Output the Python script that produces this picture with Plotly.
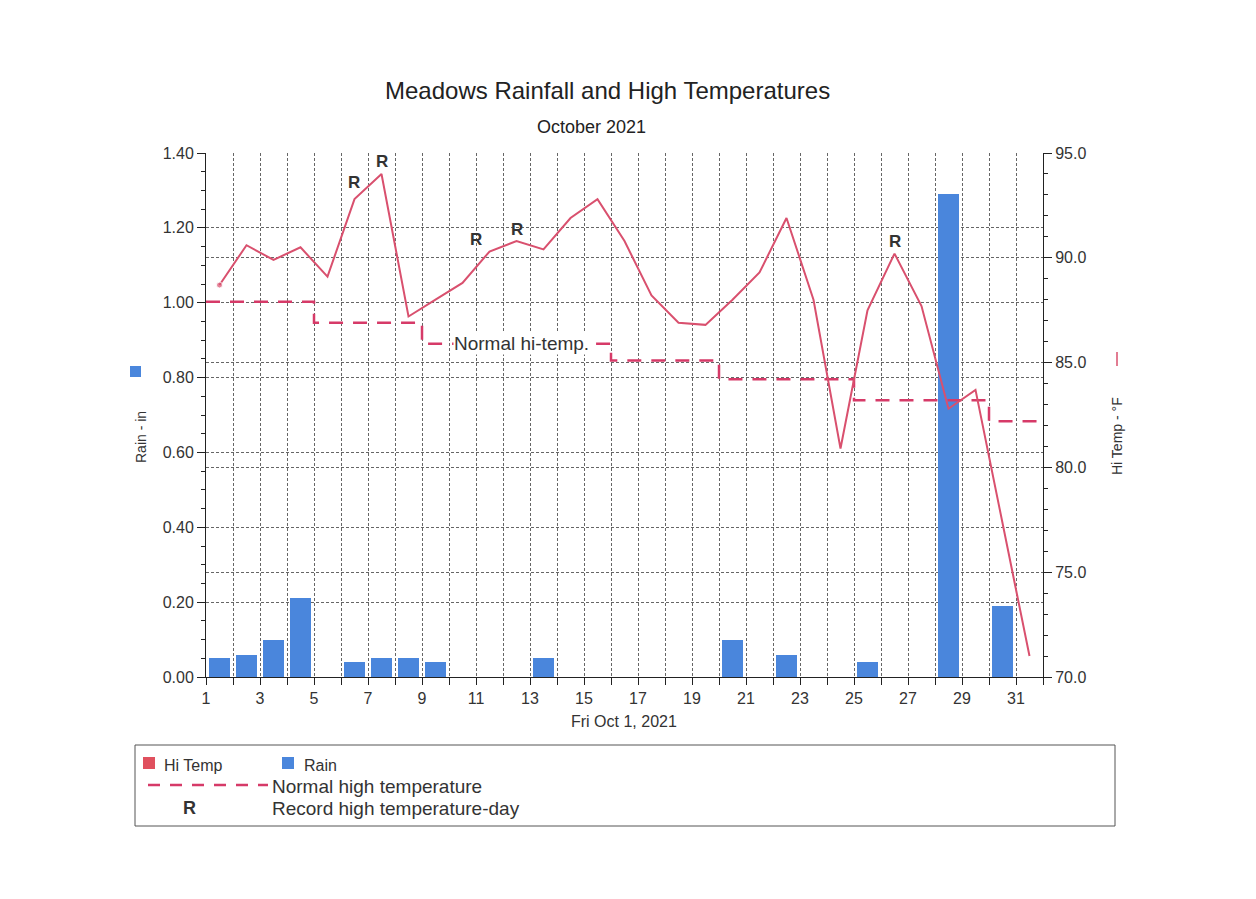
import plotly.graph_objects as go

# ---------------- data ----------------
days = list(range(1, 32))
rain_in = [0.05, 0.06, 0.10, 0.21, 0.00, 0.04, 0.05, 0.05, 0.04, 0.00,
           0.00, 0.00, 0.05, 0.00, 0.00, 0.00, 0.00, 0.00, 0.00, 0.10,
           0.00, 0.06, 0.00, 0.00, 0.04, 0.00, 0.00, 1.29, 0.00, 0.19, 0.00]
hi_temp = [88.7, 90.6, 89.9, 90.5, 89.1, 92.8, 94.0, 87.2, 88.0, 88.8,
           90.3, 90.8, 90.4, 91.9, 92.8, 90.8, 88.2, 86.9, 86.8, 88.0,
           89.3, 91.9, 88.0, 80.9, 87.5, 90.2, 87.7, 82.8, 83.7, 77.4, 71.0]
normal_hi = [87.9, 87.9, 87.9, 87.9, 86.9, 86.9, 86.9, 86.9, 85.9, 85.9,
             85.9, 85.9, 85.9, 85.9, 85.9, 85.1, 85.1, 85.1, 85.1, 84.2,
             84.2, 84.2, 84.2, 84.2, 83.2, 83.2, 83.2, 83.2, 83.2, 82.2, 82.2]
record_days = [6, 7, 11, 12, 26]
x_tick_vals = list(range(1, 32, 2))

# ---------------- style ----------------
FONT = "Liberation Sans, Arial, sans-serif"
TEMP_COLOR = "#d9506e"
NORMAL_COLOR = "#d63a68"
RAIN_COLOR = "#4a86dc"
GRID = dict(showgrid=True, gridcolor="#666666", gridwidth=1, griddash="3px,2px")

BODY = 8  # default page margin of the html body
W, H = 1256 - 2 * BODY, 899 - 2 * BODY
PL, PR, PT, PB = 206, 1043, 153, 677  # plot area in window pixels
def px(x):
    return (x - PL) / (PR - PL)
def py(y):
    return (PB - y) / (PB - PT)

centers = [d + 0.5 for d in days]

fig = go.Figure()
fig.add_trace(go.Bar(x=centers, y=rain_in, width=0.8, marker_color=RAIN_COLOR,
                     marker_line_width=0, name="Rain", yaxis="y"))
fig.add_trace(go.Scatter(x=days + [days[-1] + 1], y=normal_hi + [normal_hi[-1]],
                         mode="lines", line=dict(color=NORMAL_COLOR, width=2.5, dash="14px,10px", shape="hv"),
                         name="Normal high temperature", yaxis="y2"))
fig.add_trace(go.Scatter(x=centers, y=hi_temp, mode="lines+markers",
                         line=dict(color=TEMP_COLOR, width=2),
                         marker=dict(color=TEMP_COLOR, size=[6] + [0] * (len(days) - 1)),
                         name="Hi Temp", yaxis="y2"))

def note(x, y, text, size, anchor="center", angle=0, color="#333", **kw):
    return dict(x=px(x), y=py(y), xref="paper", yref="paper", xanchor=anchor, yanchor="middle",
                text=text, textangle=angle, showarrow=False,
                font=dict(family=FONT, size=size, color=color), **kw)

annotations = []
# record markers
for d in record_days:
    i = days.index(d)
    annotations.append(dict(x=centers[i], y=hi_temp[i], xref="x", yref="y2",
                            xanchor="center", yanchor="middle",
                            text="<b>R</b>", showarrow=False,
                            yshift=17 if d == 6 else 12,
                            xshift=-14 if d == 11 else (-1 if d == 6 else 0),
                            font=dict(family=FONT, size=17, color="#333")))
annotations += [
    note(453, 343, "Normal hi-temp.", 19, anchor="left", bgcolor="white", borderpad=0),
    note(607, 90, "Meadows Rainfall and High Temperatures", 24, color="#222"),
    note(591, 127, "October 2021", 18, color="#222"),
    note(624, 721, "Fri Oct 1, 2021", 16),
    note(141, 437, "Rain - in", 14, angle=-90),
    note(1117, 436, "Hi Temp - °F", 14, angle=-90),
    # legend texts
    note(162, 765, "Hi Temp", 16, anchor="left"),
    note(302, 765, "Rain", 16, anchor="left"),
    note(270, 786, "Normal high temperature", 19, anchor="left"),
    note(189, 808, "<b>R</b>", 18),
    note(270, 808, "Record high temperature-day", 19, anchor="left"),
]

shapes = [
    # legend box
    dict(type="rect", xref="paper", yref="paper", x0=px(135), x1=px(1115), y0=py(745), y1=py(826),
         line=dict(color="#555", width=1)),
    dict(type="rect", xref="paper", yref="paper", x0=px(143), x1=px(155), y0=py(757), y1=py(769),
         line=dict(width=0), fillcolor="#e0505e"),
    dict(type="rect", xref="paper", yref="paper", x0=px(282), x1=px(294), y0=py(757), y1=py(769),
         line=dict(width=0), fillcolor=RAIN_COLOR),
    dict(type="line", xref="paper", yref="paper", x0=px(148), x1=px(268), y0=py(785), y1=py(785),
         line=dict(color=NORMAL_COLOR, width=2.5, dash="12px,10px")),
    # small keys beside axis titles
    dict(type="rect", xref="paper", yref="paper", x0=px(130), x1=px(141), y0=py(366), y1=py(377),
         line=dict(width=0), fillcolor=RAIN_COLOR),
    dict(type="line", xref="paper", yref="paper", x0=px(1117), x1=px(1117), y0=py(352), y1=py(366),
         line=dict(color=TEMP_COLOR, width=1.5)),
]

tickfont = dict(family=FONT, size=16, color="#333")
fig.update_layout(
    width=W, height=H,
    margin=dict(l=PL - BODY, r=W + BODY - PR, t=PT - BODY, b=H + BODY - PB, pad=0),
    paper_bgcolor="white", plot_bgcolor="white",
    showlegend=False, bargap=0,
    xaxis=dict(range=[1, 32], tickvals=x_tick_vals, ticks="outside", ticklen=7, tickcolor="#222",
               showline=True, linecolor="#222", linewidth=1, tickfont=tickfont, zeroline=False,
               minor=dict(dtick=1, tick0=1, ticks="outside", ticklen=7, tickcolor="#222", **GRID),
               **GRID),
    yaxis=dict(range=[0, 1.4], dtick=0.2, tick0=0, tickformat=".2f", ticks="outside", ticklen=8,
               tickcolor="#222", showline=True, linecolor="#222", linewidth=1, tickfont=tickfont,
               zeroline=False,
               minor=dict(dtick=0.05, ticks="outside", ticklen=4, tickcolor="#222", showgrid=False),
               **GRID),
    yaxis2=dict(range=[70, 95], dtick=5, tick0=70, tickformat=".1f", ticks="outside", ticklen=8,
                tickcolor="#222", showline=True, linecolor="#222", linewidth=1, tickfont=tickfont,
                overlaying="y", side="right", zeroline=False,
                minor=dict(dtick=1, ticks="outside", ticklen=4, tickcolor="#222", showgrid=False),
                **GRID),
    annotations=annotations, shapes=shapes,
)

fig.write_html("out.html")
